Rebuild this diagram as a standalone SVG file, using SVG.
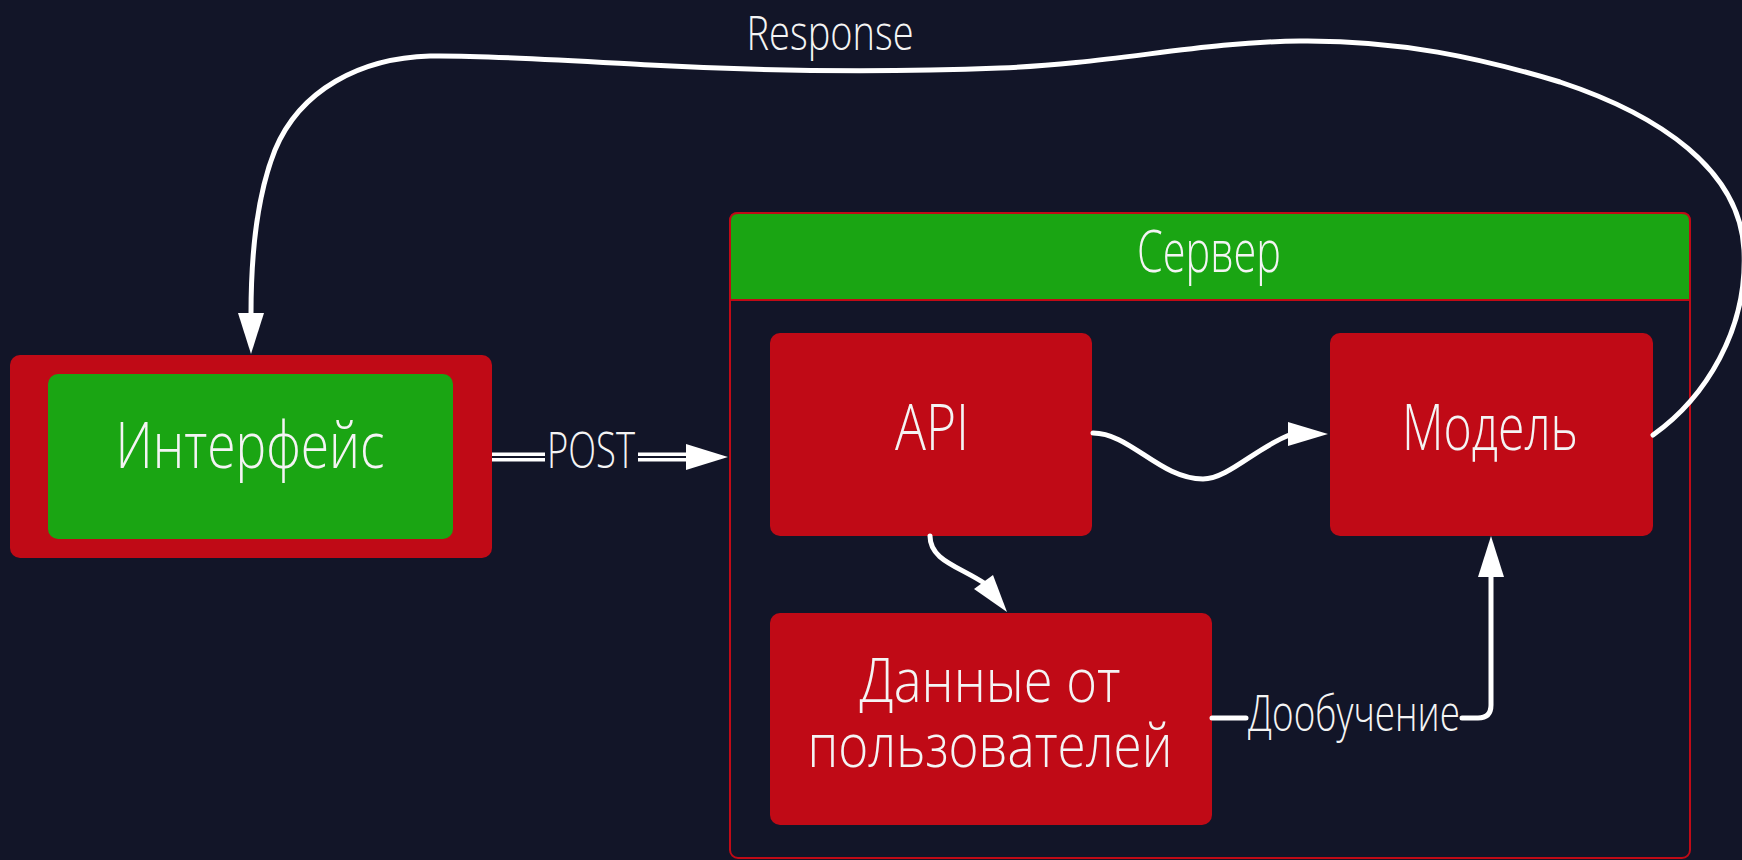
<svg xmlns="http://www.w3.org/2000/svg" width="1742" height="860" viewBox="0 0 1742 860">
<style>
.bg{fill:#121528}
.red{fill:#c00a16}
.green{fill:#1aa513}
.lbl{font-family:"Open Sans","Liberation Sans Narrow","DejaVu Sans Condensed",sans-serif;font-weight:300;fill:#f4f4f4;text-anchor:middle}
.wire{fill:none;stroke:#ffffff;stroke-width:5;stroke-linecap:round;stroke-linejoin:round}
.head{fill:#ffffff}
</style>
<rect class="bg" x="0" y="0" width="1742" height="860"/>

<g id="server">
  <rect x="730" y="213" width="960" height="645" rx="8" fill="none" stroke="#c00a16" stroke-width="2"/>
  <path d="M730,300 V221 Q730,213 738,213 H1682 Q1690,213 1690,221 V300 Z" class="green" stroke="#c00a16" stroke-width="2"/>
  <text class="lbl" x="1209" y="272" font-size="58" textLength="144" lengthAdjust="spacingAndGlyphs">Сервер</text>
</g>

<g id="interface">
  <rect class="red" x="10" y="355" width="482" height="203" rx="10"/>
  <rect class="green" x="48" y="374" width="405" height="165" rx="10"/>
  <text class="lbl" x="250" y="468" font-size="64" textLength="269" lengthAdjust="spacingAndGlyphs">Интерфейс</text>
</g>

<g id="api">
  <rect class="red" x="770" y="333" width="322" height="203" rx="10"/>
  <text class="lbl" x="932" y="450" font-size="64" textLength="74" lengthAdjust="spacingAndGlyphs">API</text>
</g>

<g id="model">
  <rect class="red" x="1330" y="333" width="323" height="203" rx="10"/>
  <text class="lbl" x="1490" y="450" font-size="64" textLength="176" lengthAdjust="spacingAndGlyphs">Модель</text>
</g>

<g id="userdata">
  <rect class="red" x="770" y="613" width="442" height="212" rx="10"/>
  <text class="lbl" font-size="60"><tspan x="990" y="702" textLength="261" lengthAdjust="spacingAndGlyphs">Данные от</tspan><tspan x="990" y="767" textLength="365" lengthAdjust="spacingAndGlyphs">пользователей</tspan></text>
</g>

<g id="connectors">
  <!-- Response -->
  <path class="wire" stroke-width="4" d="M1653,435 C1705,398 1748,330 1744,250 C1740,170 1660,115 1560,82 C1480,58 1400,40 1300,41 C1200,42 1110,64 1000,68 C900,72 780,72 650,65 C560,60 480,55 430,56 C360,58 300,90 275,150 C255,200 251,260 251,314"/>
  <polygon class="head" points="251,354 238,313 264,313"/>
  <text class="lbl" x="830" y="50" font-size="48" textLength="167" lengthAdjust="spacingAndGlyphs">Response</text>

  <!-- POST -->
  <path d="M492,457 H545 M638,457 H690" fill="none" stroke="#ffffff" stroke-width="9"/>
  <path d="M492,457 H545 M638,457 H688" fill="none" stroke="#121528" stroke-width="2"/>
  <polygon class="head" points="728,457 686,444 686,470"/>
  <text class="lbl" x="591" y="468" font-size="49" textLength="88" lengthAdjust="spacingAndGlyphs">POST</text>

  <!-- API -> Model -->
  <path class="wire" d="M1093,433 C1130,433 1160,479 1203,479 C1228,479 1258,446 1292,434"/>
  <polygon class="head" points="1328,434 1288,422 1288,446"/>

  <!-- API -> Данные -->
  <path class="wire" d="M930,536 C930,560 958,566 984,583"/>
  <polygon class="head" points="1007,612 974,589 993,575"/>

  <!-- Данные -> Model -->
  <path class="wire" stroke-width="6" d="M1212,718 H1246 M1462,718 H1478 Q1491,718 1491,705 V575"/>
  <polygon class="head" points="1491,536 1478,577 1504,577"/>
  <text class="lbl" x="1354" y="731" font-size="50" textLength="212" lengthAdjust="spacingAndGlyphs">Дообучение</text>
</g>
</svg>
